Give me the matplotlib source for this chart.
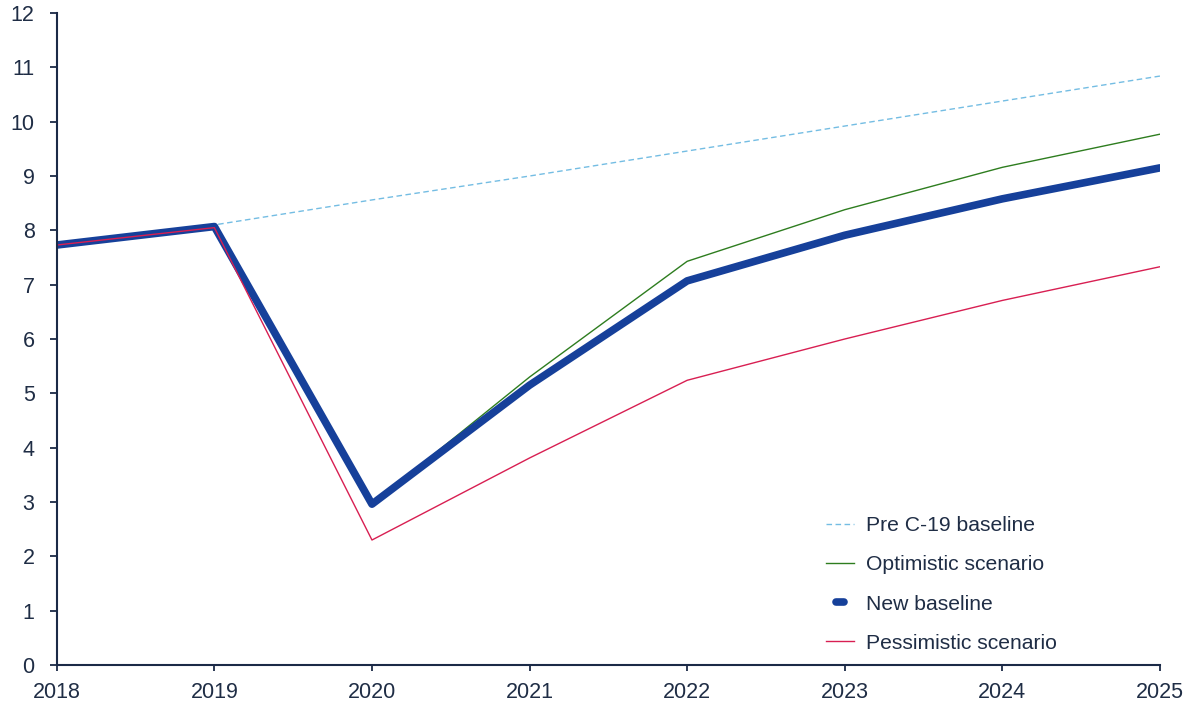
import matplotlib
matplotlib.use("Agg")
import numpy as np
import matplotlib.pyplot as plt
from matplotlib.legend_handler import HandlerLine2D
from matplotlib.lines import Line2D

years = [2018, 2019, 2020, 2021, 2022, 2023, 2024, 2025]
pre_c19 = [7.76, 8.10, 8.56, 9.00, 9.46, 9.92, 10.38, 10.84]
optimistic = [7.75, 8.09, 2.96, 5.30, 7.43, 8.38, 9.16, 9.77]
new_baseline = [7.73, 8.07, 2.96, 5.15, 7.07, 7.91, 8.58, 9.15]
pessimistic = [7.73, 8.05, 2.30, 3.81, 5.24, 6.00, 6.71, 7.33]
yticks = list(range(0, 13))

plt.rcParams['font.family'] = ['Liberation Sans', 'DejaVu Sans']
txt = '#1f2d45'
axc = '#1b2a47'


class ShortHandler(HandlerLine2D):
    def create_artists(self, legend, orig_handle, xdescent, ydescent, width, height, fontsize, trans):
        arts = super().create_artists(legend, orig_handle, xdescent, ydescent, width, height, fontsize, trans)
        for a in arts:
            if isinstance(a, Line2D):
                x = np.asarray(a.get_xdata(), dtype=float)
                c = x.mean()
                a.set_xdata(c + (x - c) * 0.28)
        return arts


fig = plt.figure(figsize=(11.83, 7.01), dpi=100)
ax = fig.add_axes([0.048, 0.0514, 0.9325, 0.930])

ax.plot(years, pre_c19, color='#74bde3', lw=1.0, ls=(0, (4, 2.5)), label='Pre C-19 baseline')
ax.plot(years, optimistic, color='#2e7d1f', lw=1.0, label='Optimistic scenario')
nb, = ax.plot(years, new_baseline, color='#16409a', lw=5.5, solid_capstyle='round', label='New baseline')
ax.plot(years, pessimistic, color='#d81f52', lw=1.0, label='Pessimistic scenario')

ax.set_xlim(2018, 2025)
ax.set_ylim(0, 12)
ax.set_yticks(yticks)
ax.set_xticks(years)
for s in ['top', 'right']:
    ax.spines[s].set_visible(False)
for s in ['left', 'bottom']:
    ax.spines[s].set_color(axc)
    ax.spines[s].set_linewidth(1.5)
ax.tick_params(axis='both', colors=axc, labelcolor=txt, labelsize=15.5, width=1.3, direction='out')
ax.tick_params(axis='y', length=5, pad=11)
ax.tick_params(axis='x', length=4, pad=8)

leg = ax.legend(loc='lower left', bbox_to_anchor=(0.697, 0.019), frameon=False, fontsize=15.2,
                borderaxespad=0, borderpad=0,
                handlelength=1.36, labelspacing=0.95, handletextpad=0.55, labelcolor=txt,
                handler_map={nb: ShortHandler()})

fig.savefig('out.png', dpi=100)
